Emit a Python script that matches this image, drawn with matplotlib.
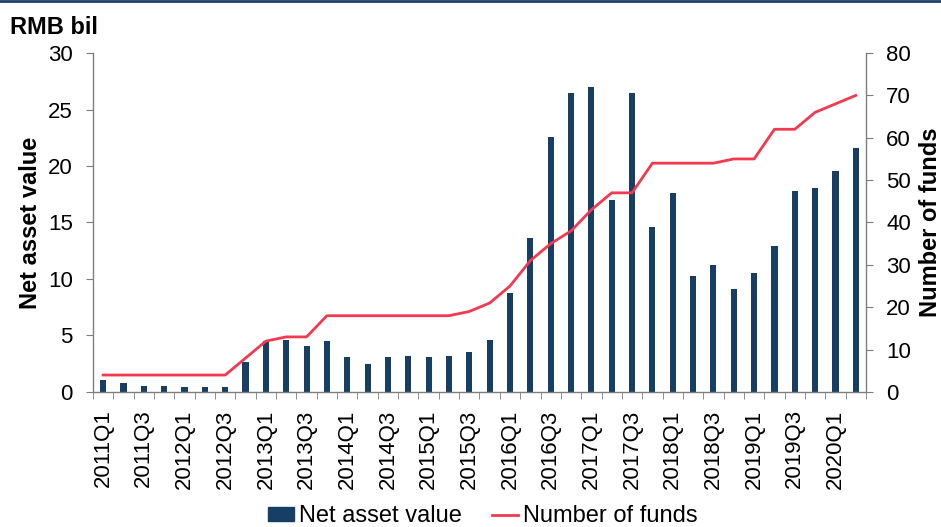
import matplotlib
matplotlib.use("Agg")
import matplotlib.pyplot as plt
import numpy as np
from matplotlib.lines import Line2D

plt.rcParams['font.family'] = ['Liberation Sans', 'DejaVu Sans']

quarters = [f"{y}Q{q}" for y in range(2011, 2021) for q in range(1, 5)][:38]
nav = [1.1, 0.8, 0.55, 0.55, 0.47, 0.47, 0.47, 2.65, 4.5, 4.57, 4.05, 4.48,
       3.1, 2.5, 3.1, 3.2, 3.1, 3.2, 3.55, 4.57, 8.75, 13.65, 22.6, 26.5,
       26.95, 16.95, 26.5, 14.6, 17.6, 10.3, 11.25, 9.1, 10.55, 12.95,
       17.8, 18.05, 19.55, 21.55]
funds = [4, 4, 4, 4, 4, 4, 4, 8, 12, 13, 13, 18, 18, 18, 18, 18, 18, 18,
         19, 21, 25, 31, 35, 38, 43, 47, 47, 54, 54, 54, 54, 55, 55, 62,
         62, 66, 68, 70]

bar_color = '#173f66'
line_color = '#f2394f'
spine_color = '#7f7f7f'

fig = plt.figure(figsize=(9.41, 5.27), dpi=100)
ax = fig.add_axes([0.0988, 0.2562, 0.8215, 0.6432])
ax2 = ax.twinx()

x = np.arange(len(quarters))
ax.bar(x, nav, width=0.3, color=bar_color, zorder=2, label='Net asset value')
ax2.plot(x, funds, color=line_color, lw=2, zorder=3, label='Number of funds')

ax.set_xlim(-0.5, len(quarters) - 0.5)
ax.set_ylim(0, 30)
ax2.set_ylim(0, 80)
ax.set_yticks(np.arange(0, 31, 5))
ax2.set_yticks(np.arange(0, 81, 10))

ax.set_xticks(x[::2])
ax.set_xticklabels(quarters[::2], rotation=90, fontsize=16)
ax.set_xticks(np.arange(-0.5, len(quarters), 1), minor=True)
ax.tick_params(axis='x', which='major', length=0, pad=12.5)
ax.tick_params(axis='x', which='minor', length=5, color=spine_color, direction='out')
ax.tick_params(axis='y', labelsize=16, length=5, color=spine_color, direction='out', pad=9.5)
ax2.tick_params(axis='y', labelsize=16, length=5, color=spine_color, direction='out', pad=9.5)

for a in (ax, ax2):
    a.spines['top'].set_visible(False)
    for s in ('left', 'right', 'bottom'):
        a.spines[s].set_color(spine_color)
        a.spines[s].set_linewidth(1)
ax.spines['right'].set_visible(False)
ax2.spines['left'].set_visible(False)
ax2.spines['bottom'].set_visible(False)

ax.set_ylabel('Net asset value', fontsize=17, fontweight='bold', labelpad=4)
ax2.set_ylabel('Number of funds', fontsize=17, fontweight='bold', rotation=90, labelpad=6)

fig.text(0.011, 0.948, 'RMB bil', fontsize=17, fontweight='bold', ha='left', va='center')

handles = [plt.Rectangle((0, 0), 1, 1, color=bar_color),
           Line2D([0], [0], color=line_color, lw=2)]
fig.legend(handles, ['Net asset value', 'Number of funds'], loc='center',
           bbox_to_anchor=(0.513, 0.02), ncol=2, frameon=False, fontsize=17,
           handlelength=1.1, handletextpad=0.2, columnspacing=1.3, handleheight=0.5,
           borderpad=0, borderaxespad=0)

fig.add_artist(Line2D([0, 1], [0.998, 0.998], color='#1f3f66', lw=2, transform=fig.transFigure))

fig.savefig('out.png', dpi=100)
